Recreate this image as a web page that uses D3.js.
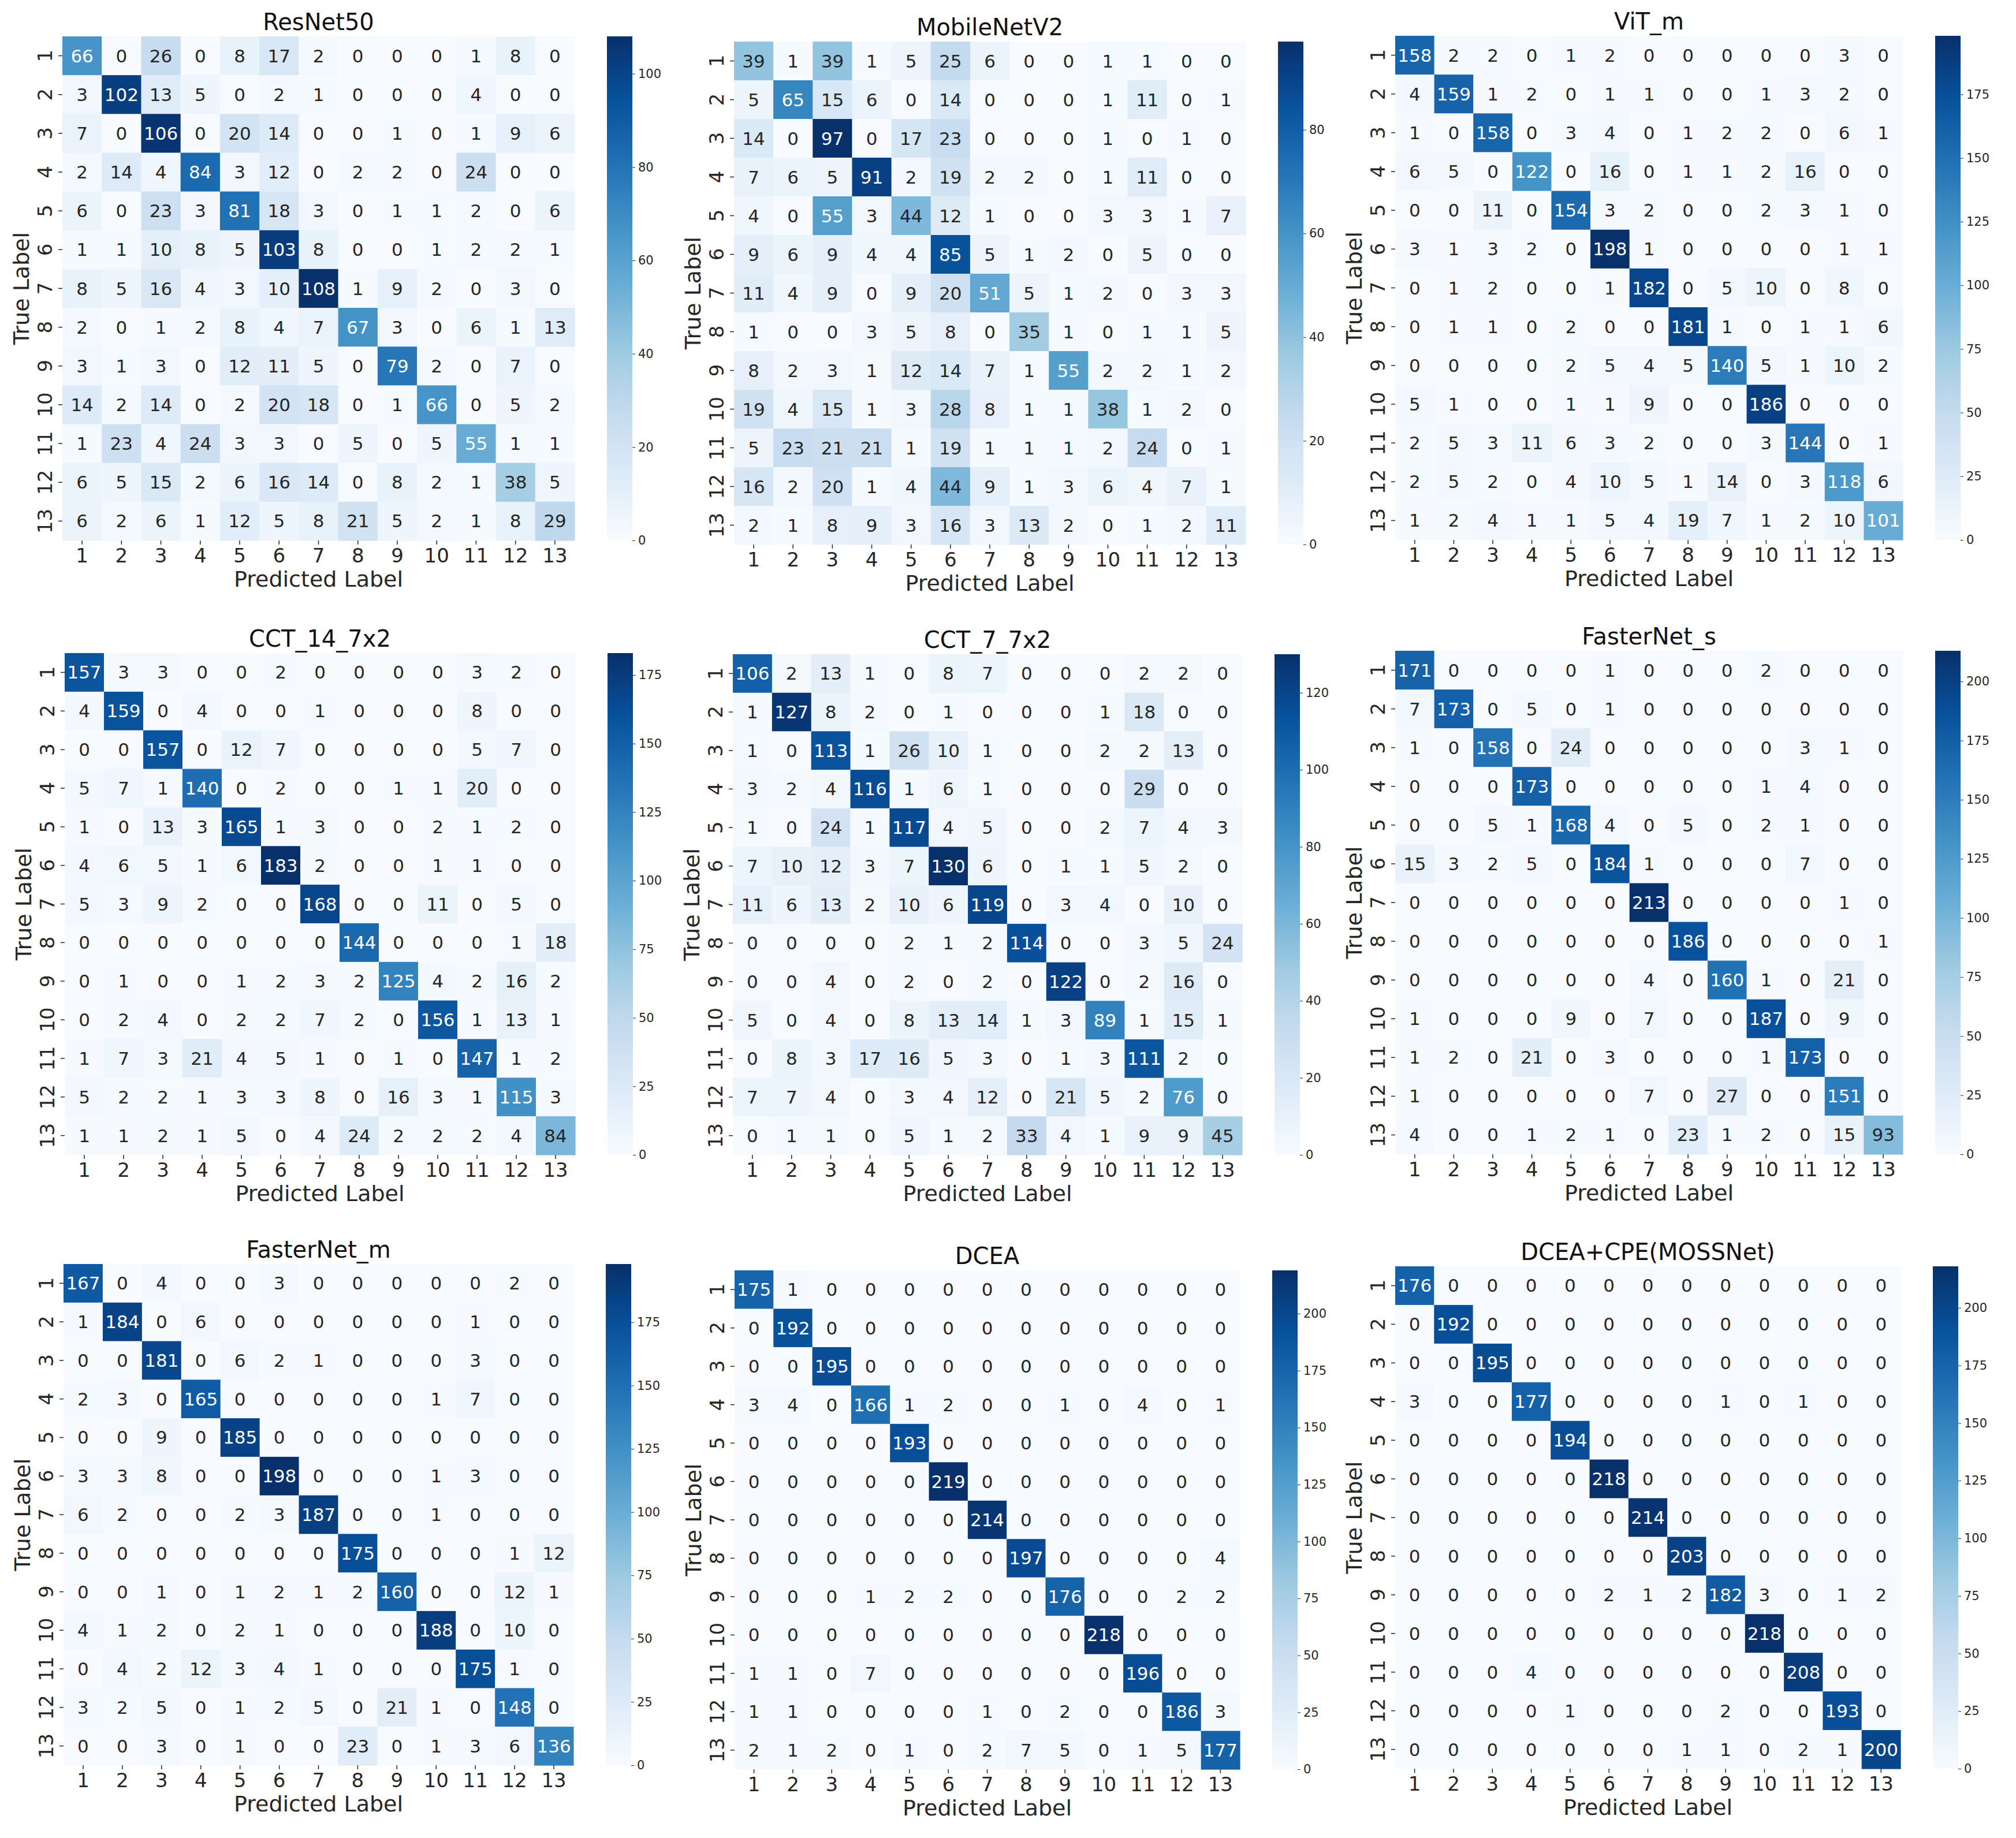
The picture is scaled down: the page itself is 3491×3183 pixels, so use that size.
<!DOCTYPE html>
<html>
<head>
<meta charset="utf-8">
<script src="https://cdn.jsdelivr.net/npm/d3@7"></script>
<style>
  body{margin:0;background:#fff}
  text{font-family:"DejaVu Sans",sans-serif}
</style>
</head>
<body>
<svg id="fig" width="3491" height="3183"></svg>
<script>
// class labels on both axes
var classLabels = ['1','2','3','4','5','6','7','8','9','10','11','12','13'];

var titles = ['ResNet50','MobileNetV2','ViT_m','CCT_14_7x2','CCT_7_7x2','FasterNet_s','FasterNet_m','DCEA','DCEA+CPE(MOSSNet)'];

var resnet50 = [
  [66,0,26,0,8,17,2,0,0,0,1,8,0],
  [3,102,13,5,0,2,1,0,0,0,4,0,0],
  [7,0,106,0,20,14,0,0,1,0,1,9,6],
  [2,14,4,84,3,12,0,2,2,0,24,0,0],
  [6,0,23,3,81,18,3,0,1,1,2,0,6],
  [1,1,10,8,5,103,8,0,0,1,2,2,1],
  [8,5,16,4,3,10,108,1,9,2,0,3,0],
  [2,0,1,2,8,4,7,67,3,0,6,1,13],
  [3,1,3,0,12,11,5,0,79,2,0,7,0],
  [14,2,14,0,2,20,18,0,1,66,0,5,2],
  [1,23,4,24,3,3,0,5,0,5,55,1,1],
  [6,5,15,2,6,16,14,0,8,2,1,38,5],
  [6,2,6,1,12,5,8,21,5,2,1,8,29]
];
var mobilenetV2 = [
  [39,1,39,1,5,25,6,0,0,1,1,0,0],
  [5,65,15,6,0,14,0,0,0,1,11,0,1],
  [14,0,97,0,17,23,0,0,0,1,0,1,0],
  [7,6,5,91,2,19,2,2,0,1,11,0,0],
  [4,0,55,3,44,12,1,0,0,3,3,1,7],
  [9,6,9,4,4,85,5,1,2,0,5,0,0],
  [11,4,9,0,9,20,51,5,1,2,0,3,3],
  [1,0,0,3,5,8,0,35,1,0,1,1,5],
  [8,2,3,1,12,14,7,1,55,2,2,1,2],
  [19,4,15,1,3,28,8,1,1,38,1,2,0],
  [5,23,21,21,1,19,1,1,1,2,24,0,1],
  [16,2,20,1,4,44,9,1,3,6,4,7,1],
  [2,1,8,9,3,16,3,13,2,0,1,2,11]
];
var vitM = [
  [158,2,2,0,1,2,0,0,0,0,0,3,0],
  [4,159,1,2,0,1,1,0,0,1,3,2,0],
  [1,0,158,0,3,4,0,1,2,2,0,6,1],
  [6,5,0,122,0,16,0,1,1,2,16,0,0],
  [0,0,11,0,154,3,2,0,0,2,3,1,0],
  [3,1,3,2,0,198,1,0,0,0,0,1,1],
  [0,1,2,0,0,1,182,0,5,10,0,8,0],
  [0,1,1,0,2,0,0,181,1,0,1,1,6],
  [0,0,0,0,2,5,4,5,140,5,1,10,2],
  [5,1,0,0,1,1,9,0,0,186,0,0,0],
  [2,5,3,11,6,3,2,0,0,3,144,0,1],
  [2,5,2,0,4,10,5,1,14,0,3,118,6],
  [1,2,4,1,1,5,4,19,7,1,2,10,101]
];
var cct14 = [
  [157,3,3,0,0,2,0,0,0,0,3,2,0],
  [4,159,0,4,0,0,1,0,0,0,8,0,0],
  [0,0,157,0,12,7,0,0,0,0,5,7,0],
  [5,7,1,140,0,2,0,0,1,1,20,0,0],
  [1,0,13,3,165,1,3,0,0,2,1,2,0],
  [4,6,5,1,6,183,2,0,0,1,1,0,0],
  [5,3,9,2,0,0,168,0,0,11,0,5,0],
  [0,0,0,0,0,0,0,144,0,0,0,1,18],
  [0,1,0,0,1,2,3,2,125,4,2,16,2],
  [0,2,4,0,2,2,7,2,0,156,1,13,1],
  [1,7,3,21,4,5,1,0,1,0,147,1,2],
  [5,2,2,1,3,3,8,0,16,3,1,115,3],
  [1,1,2,1,5,0,4,24,2,2,2,4,84]
];
var cct7 = [
  [106,2,13,1,0,8,7,0,0,0,2,2,0],
  [1,127,8,2,0,1,0,0,0,1,18,0,0],
  [1,0,113,1,26,10,1,0,0,2,2,13,0],
  [3,2,4,116,1,6,1,0,0,0,29,0,0],
  [1,0,24,1,117,4,5,0,0,2,7,4,3],
  [7,10,12,3,7,130,6,0,1,1,5,2,0],
  [11,6,13,2,10,6,119,0,3,4,0,10,0],
  [0,0,0,0,2,1,2,114,0,0,3,5,24],
  [0,0,4,0,2,0,2,0,122,0,2,16,0],
  [5,0,4,0,8,13,14,1,3,89,1,15,1],
  [0,8,3,17,16,5,3,0,1,3,111,2,0],
  [7,7,4,0,3,4,12,0,21,5,2,76,0],
  [0,1,1,0,5,1,2,33,4,1,9,9,45]
];
var fasternetS = [
  [171,0,0,0,0,1,0,0,0,2,0,0,0],
  [7,173,0,5,0,1,0,0,0,0,0,0,0],
  [1,0,158,0,24,0,0,0,0,0,3,1,0],
  [0,0,0,173,0,0,0,0,0,1,4,0,0],
  [0,0,5,1,168,4,0,5,0,2,1,0,0],
  [15,3,2,5,0,184,1,0,0,0,7,0,0],
  [0,0,0,0,0,0,213,0,0,0,0,1,0],
  [0,0,0,0,0,0,0,186,0,0,0,0,1],
  [0,0,0,0,0,0,4,0,160,1,0,21,0],
  [1,0,0,0,9,0,7,0,0,187,0,9,0],
  [1,2,0,21,0,3,0,0,0,1,173,0,0],
  [1,0,0,0,0,0,7,0,27,0,0,151,0],
  [4,0,0,1,2,1,0,23,1,2,0,15,93]
];
var fasternetM = [
  [167,0,4,0,0,3,0,0,0,0,0,2,0],
  [1,184,0,6,0,0,0,0,0,0,1,0,0],
  [0,0,181,0,6,2,1,0,0,0,3,0,0],
  [2,3,0,165,0,0,0,0,0,1,7,0,0],
  [0,0,9,0,185,0,0,0,0,0,0,0,0],
  [3,3,8,0,0,198,0,0,0,1,3,0,0],
  [6,2,0,0,2,3,187,0,0,1,0,0,0],
  [0,0,0,0,0,0,0,175,0,0,0,1,12],
  [0,0,1,0,1,2,1,2,160,0,0,12,1],
  [4,1,2,0,2,1,0,0,0,188,0,10,0],
  [0,4,2,12,3,4,1,0,0,0,175,1,0],
  [3,2,5,0,1,2,5,0,21,1,0,148,0],
  [0,0,3,0,1,0,0,23,0,1,3,6,136]
];
var dcea = [
  [175,1,0,0,0,0,0,0,0,0,0,0,0],
  [0,192,0,0,0,0,0,0,0,0,0,0,0],
  [0,0,195,0,0,0,0,0,0,0,0,0,0],
  [3,4,0,166,1,2,0,0,1,0,4,0,1],
  [0,0,0,0,193,0,0,0,0,0,0,0,0],
  [0,0,0,0,0,219,0,0,0,0,0,0,0],
  [0,0,0,0,0,0,214,0,0,0,0,0,0],
  [0,0,0,0,0,0,0,197,0,0,0,0,4],
  [0,0,0,1,2,2,0,0,176,0,0,2,2],
  [0,0,0,0,0,0,0,0,0,218,0,0,0],
  [1,1,0,7,0,0,0,0,0,0,196,0,0],
  [1,1,0,0,0,0,1,0,2,0,0,186,3],
  [2,1,2,0,1,0,2,7,5,0,1,5,177]
];
var mossnet = [
  [176,0,0,0,0,0,0,0,0,0,0,0,0],
  [0,192,0,0,0,0,0,0,0,0,0,0,0],
  [0,0,195,0,0,0,0,0,0,0,0,0,0],
  [3,0,0,177,0,0,0,0,1,0,1,0,0],
  [0,0,0,0,194,0,0,0,0,0,0,0,0],
  [0,0,0,0,0,218,0,0,0,0,0,0,0],
  [0,0,0,0,0,0,214,0,0,0,0,0,0],
  [0,0,0,0,0,0,0,203,0,0,0,0,0],
  [0,0,0,0,0,2,1,2,182,3,0,1,2],
  [0,0,0,0,0,0,0,0,0,218,0,0,0],
  [0,0,0,4,0,0,0,0,0,0,208,0,0],
  [0,0,0,0,1,0,0,0,2,0,0,193,0],
  [0,0,0,0,0,0,0,1,1,0,2,1,200]
];

// colorbar tick labels per panel
var cbTicks20  = [0,20,40,60,80,100];
var cbTicks20b = [0,20,40,60,80];
var cbTicks20c = [0,20,40,60,80,100,120];
var cbTicks25  = [0,25,50,75,100,125,150,175];
var cbTicks25b = [0,25,50,75,100,125,150,175,200];

var matrices = [resnet50, mobilenetV2, vitM, cct14, cct7, fasternetS, fasternetM, dcea, mossnet];
var cbTicks  = [cbTicks20, cbTicks20b, cbTicks25, cbTicks25, cbTicks20c, cbTicks25b, cbTicks25, cbTicks25b, cbTicks25b];

// heatmap box of each panel on the page
var layout = [
  {x:108, y:63,   w:887, h:873},
  {x:1271,y:72,   w:886, h:871},
  {x:2416,y:62,   w:879, h:873},
  {x:112, y:1131, w:884, h:869},
  {x:1269,y:1133, w:882, h:867},
  {x:2416,y:1127, w:879, h:872},
  {x:110, y:2189, w:883, h:868},
  {x:1272,y:2200, w:875, h:864},
  {x:2416,y:2193, w:875, h:870}
];

// matplotlib "Blues"
var blues = ['#f7fbff','#deebf7','#c6dbef','#9ecae1','#6baed6','#4292c6','#2171b5','#08519c','#08306b'];
var textDark = '#262626';

function luminance(c){
  var rgb = d3.rgb(c);
  var f = function(v){ v = v/255; return v <= 0.03928 ? v/12.92 : Math.pow((v+0.055)/1.055, 2.4); };
  return 0.2126*f(rgb.r) + 0.7152*f(rgb.g) + 0.0722*f(rgb.b);
}

var svg = d3.select('#fig');
var defs = svg.append('defs');

function drawPanel(i){
  var data = matrices[i], L = layout[i];
  var vmax = d3.max(data, function(r){ return d3.max(r); });
  var color = d3.scaleLinear()
      .domain(blues.map(function(_,k){ return vmax*k/(blues.length-1); }))
      .range(blues)
      .interpolate(d3.interpolateRgb);

  var x = d3.scaleBand().domain(classLabels).range([0, L.w]);
  var y = d3.scaleBand().domain(classLabels).range([0, L.h]);

  var g = svg.append('g').attr('transform', 'translate(' + L.x + ',' + L.y + ')');

  var cells = [];
  data.forEach(function(row, r){
    row.forEach(function(v, c){ cells.push({r:classLabels[r], c:classLabels[c], v:v}); });
  });

  g.append('g').selectAll('rect').data(cells).enter().append('rect')
    .attr('x', function(d){ return x(d.c); })
    .attr('y', function(d){ return y(d.r); })
    .attr('width', x.bandwidth() + 0.6)
    .attr('height', y.bandwidth() + 0.6)
    .attr('fill', function(d){ return color(d.v); });

  g.append('g').selectAll('text').data(cells).enter().append('text')
    .attr('x', function(d){ return x(d.c) + x.bandwidth()/2; })
    .attr('y', function(d){ return y(d.r) + y.bandwidth()/2; })
    .attr('text-anchor', 'middle')
    .attr('dominant-baseline', 'central')
    .style('font-size', '31px')
    .style('fill', function(d){ return luminance(color(d.v)) > 0.408 ? textDark : '#ffffff'; })
    .text(function(d){ return d.v; });

  // x axis
  var xa = g.append('g').attr('transform', 'translate(0,' + L.h + ')')
    .call(d3.axisBottom(x).tickSize(7).tickPadding(7));
  xa.select('.domain').remove();
  xa.selectAll('line').attr('stroke', textDark).attr('stroke-width', 1.5);
  xa.selectAll('text').style('font-size', '34px').style('fill', textDark).attr('font-family', null);

  // y axis, labels turned upright like matplotlib's vertical ticks
  var ya = g.append('g').call(d3.axisLeft(y).tickSize(7).tickPadding(7));
  ya.select('.domain').remove();
  ya.selectAll('line').attr('stroke', textDark).attr('stroke-width', 1.5);
  ya.selectAll('text')
    .attr('transform', 'rotate(-90)')
    .attr('x', 0).attr('y', -30).attr('dy', null)
    .attr('text-anchor', 'middle')
    .attr('dominant-baseline', 'central')
    .attr('font-family', null)
    .style('font-size', '34px').style('fill', textDark);

  // titles and axis names
  g.append('text').attr('x', L.w/2).attr('y', -11)
    .attr('text-anchor', 'middle').style('font-size', '40px').style('fill', '#111')
    .text(titles[i]);
  g.append('text').attr('x', L.w/2).attr('y', L.h + 80)
    .attr('text-anchor', 'middle').style('font-size', '38px').style('fill', textDark)
    .text('Predicted Label');
  g.append('text').attr('transform', 'translate(-71,' + (L.h/2) + ') rotate(-90)')
    .attr('text-anchor', 'middle').attr('dominant-baseline', 'central')
    .style('font-size', '38px').style('fill', textDark)
    .text('True Label');

  // colorbar
  var gid = 'cb' + i;
  var grad = defs.append('linearGradient').attr('id', gid)
    .attr('x1', 0).attr('y1', 1).attr('x2', 0).attr('y2', 0);
  grad.selectAll('stop').data(blues).enter().append('stop')
    .attr('offset', function(_,k){ return k/(blues.length-1); })
    .attr('stop-color', function(d){ return d; });

  var cbx = L.w + 56, cbw = 44;
  var cs = d3.scaleLinear().domain([0, vmax]).range([L.h, 0]);
  var cb = g.append('g').attr('transform', 'translate(' + cbx + ',0)');
  cb.append('rect').attr('width', cbw).attr('height', L.h).attr('fill', 'url(#' + gid + ')');
  var ca = cb.append('g').attr('transform', 'translate(' + cbw + ',0)')
    .call(d3.axisRight(cs).tickValues(cbTicks[i]).tickSize(5).tickPadding(5));
  ca.select('.domain').remove();
  ca.selectAll('line').attr('stroke', textDark);
  ca.selectAll('text').attr('font-family', null).style('font-size', '21px').style('fill', textDark);
}

for (var i = 0; i < matrices.length; i++) drawPanel(i);
</script>
</body>
</html>
